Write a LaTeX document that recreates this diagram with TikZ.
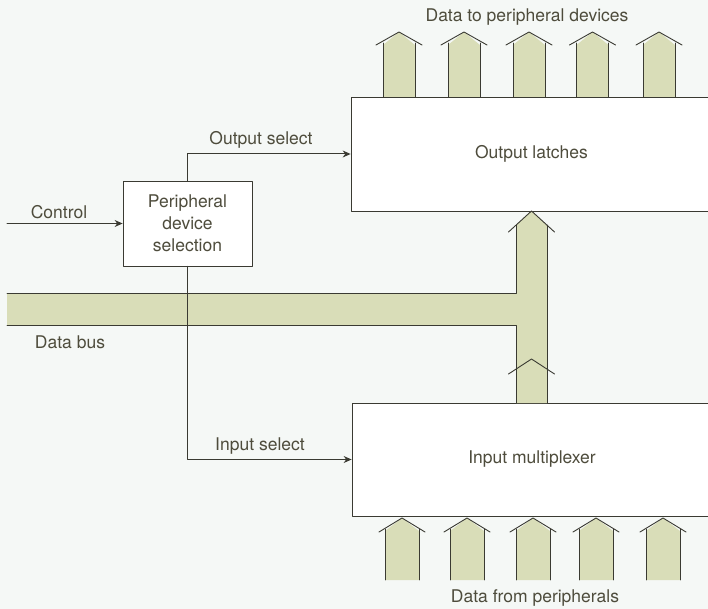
\documentclass[tikz,border=0pt]{standalone}
\usepackage{fontspec}
\setmainfont{TeX Gyre Heros}
\usetikzlibrary{arrows.meta}

\definecolor{paper}{HTML}{F5F8F6}
\definecolor{busgreen}{HTML}{D9DDB8}
\definecolor{inkline}{HTML}{3A3A32}
\definecolor{inktext}{HTML}{4E4C3C}

\begin{document}
\begin{tikzpicture}[x=1pt, y=-1pt, line cap=round, line join=round,
  box/.style={draw=inkline, line width=0.8pt, fill=white, rectangle, inner sep=0pt,
    text=inktext, font=\fontsize{17.5}{22}\selectfont},
  lbl/.style={text=inktext, inner sep=0pt, font=\fontsize{17.5}{22}\selectfont},
  sig/.style={draw=inkline, line width=1pt, -{Stealth[length=8pt,width=7pt]}},
  busline/.style={draw=inkline, line width=0.9pt}]

  %% ════ paper ════
  \fill[paper] (0,0) rectangle (708,609);

  %% ════ boxes ════
  \node[box, minimum width=361pt, minimum height=114pt] (latch) at (531.5,154.0) {Output latches};
  \node[box, minimum width=360pt, minimum height=113pt] (mux) at (532.0,459.5) {Input multiplexer};
  \node[box, minimum width=129pt, minimum height=85pt, align=center] (sel) at (187.5,223.5)
    {Peripheral\\device\\selection};

  %% ════ data bus and the shaft to the latches ════
  \fill[busgreen] (7.0,293.0) rectangle (520.0,325.0);
  \fill[busgreen] (516.0,403.0) -- (516.0,225.0) -- (531.5,211.0) -- (547.0,225.0) -- (547.0,403.0) -- cycle;
  \draw[busline] (7.0,293.0) -- (516.0,293.0) -- (516.0,225.0);
  \draw[busline] (7.0,325.0) -- (516.0,325.0) -- (516.0,403.0);
  \draw[busline] (547.0,225.0) -- (547.0,403.0);
  \draw[busline] (508.5,232.0) -- (531.5,211.0) -- (554.5,232.0);
  \draw[busline] (508.5,374.0) -- (531.5,359.0) -- (554.5,374.0);

  %% ════ arrows out to the devices ════
  \foreach \x in {399.0,464.0,529.0,592.5,659.0} {
    \fill[busgreen] (\x-16,97.0) -- (\x-16,45.0) -- (\x,32.0) -- (\x+16,45.0) -- (\x+16,97.0) -- cycle;
    \draw[busline] (\x-16,97.0) -- (\x-16,43.0);
    \draw[busline] (\x+16,97.0) -- (\x+16,43.0);
    \draw[busline] (\x-23,45.0) -- (\x,32.0) -- (\x+23,45.0);
  }

  %% ════ arrows in from the peripherals ════
  \foreach \x in {402.0,467.0,533.0,596.0,663.0} {
    \fill[busgreen] (\x-17,580.0) -- (\x-17,531.0) -- (\x,518.0) -- (\x+17,531.0) -- (\x+17,580.0) -- cycle;
    \draw[busline] (\x-17,580.0) -- (\x-17,529.0);
    \draw[busline] (\x+17,580.0) -- (\x+17,529.0);
    \draw[busline] (\x-23,532.0) -- (\x,518.0) -- (\x+23,532.0);
  }

  %% ════ signals ════
  \coordinate (ctl) at (7.0,223.5);
  \draw[sig] (ctl) -- (sel.west);
  \draw[sig] (sel.north) |- (latch.west);
  \draw[sig] (sel.south) |- (mux.west);

  %% ════ labels ════
  \node[lbl] (ctltxt) at (59.0,212.0) {Control};
  \node[lbl] (outtxt) at (261.0,140.0) {Output select};
  \node[lbl] (intxt) at (260.0,446.0) {Input select};
  \node[lbl] (bustxt) at (70.0,342.0) {Data bus};
  \node[lbl] (devtxt) at (527.0,17.0) {Data to peripheral devices};
  \node[lbl] (pertxt) at (535.0,598.0) {Data from peripherals};

  \pgfresetboundingbox
  \path[use as bounding box] (0,0) rectangle (708,609);
\end{tikzpicture}
\end{document}
